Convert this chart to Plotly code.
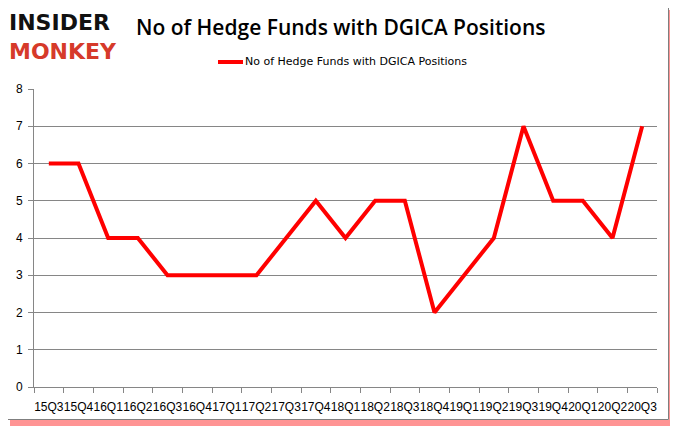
import plotly.graph_objects as go

quarters = ["15Q3", "15Q4", "16Q1", "16Q2", "16Q3", "16Q4", "17Q1", "17Q2", "17Q3", "17Q4",
            "18Q1", "18Q2", "18Q3", "18Q4", "19Q1", "19Q2", "19Q3", "19Q4", "20Q1", "20Q2", "20Q3"]
hedge_funds = [6, 6, 4, 4, 3, 3, 3, 3, 4, 5, 4, 5, 5, 2, 3, 4, 7, 5, 5, 4, 7]
series_name = "No of Hedge Funds with DGICA Positions"
title_text = "No of Hedge Funds with DGICA Positions"
logo_top, logo_bottom = "INSIDER", "MONKEY"

# the page body has an 8px margin; work in window pixels and convert
OFF = 8
WIN_W, WIN_H = 678, 431
W, H = WIN_W - OFF, WIN_H - OFF
L, R, T, B = 34 - OFF, 657 - OFF, 89 - OFF, 387 - OFF

fig = go.Figure()
fig.add_trace(go.Scatter(x=quarters, y=hedge_funds, mode="lines", name=series_name,
                         line=dict(color="#ff0000", width=4), showlegend=False))


def px(x):
    return (x - OFF - L) / (R - L)


def py(y):
    return (B - (y - OFF)) / (B - T)


shadow = "rgba(255,60,60,0.55)"
shapes = [
    # bottom shadow strip
    dict(type="rect", xref="paper", yref="paper",
         x0=px(10), x1=px(676), y0=py(426), y1=py(420),
         fillcolor=shadow, line=dict(width=0), layer="below"),
    # right shadow strip (visible part)
    dict(type="rect", xref="paper", yref="paper",
         x0=px(669), x1=px(676), y0=py(420), y1=py(10),
         fillcolor=shadow, line=dict(width=0), layer="below"),
    # frame right & bottom edges
    dict(type="line", xref="paper", yref="paper",
         x0=px(668.5), x1=px(668.5), y0=py(419.5), y1=py(8),
         line=dict(color="#7f7f7f", width=1)),
    dict(type="line", xref="paper", yref="paper",
         x0=px(8), x1=px(668.5), y0=py(419.5), y1=py(419.5),
         line=dict(color="#7f7f7f", width=1)),
    # legend sample line
    dict(type="line", xref="paper", yref="paper",
         x0=px(218), x1=px(243), y0=py(62), y1=py(62),
         line=dict(color="#ff0000", width=4)),
]
fig.update_layout(shapes=shapes)

fig.add_annotation(text=f"<b>{logo_top}</b><br><b><span style='color:#d63a2a'>{logo_bottom}</span></b>",
                   xref="paper", yref="paper", align="left",
                   x=px(7), y=py(8), xanchor="left", yanchor="top", showarrow=False,
                   font=dict(family="DejaVu Sans", size=22, color="#111111"))
fig.add_annotation(text=title_text, xref="paper", yref="paper",
                   x=px(340), y=py(27), xanchor="center", yanchor="middle", showarrow=False,
                   font=dict(family="Open Sans", size=21, color="#000000", weight=600))
fig.add_annotation(text=series_name, xref="paper", yref="paper",
                   x=px(243), y=py(62), xanchor="left", yanchor="middle", showarrow=False,
                   font=dict(family="DejaVu Sans", size=11, color="#000000"))

fig.update_layout(
    width=W, height=H,
    margin=dict(l=L, r=W - R, t=T, b=H - B, pad=0, autoexpand=False),
    paper_bgcolor="white", plot_bgcolor="white",
    showlegend=False,
    xaxis=dict(type="category", tickson="boundaries", ticks="outside", ticklen=5,
               tickcolor="#868686", showline=True, linecolor="#868686", showgrid=False,
               range=[-0.5, 20.5], automargin=False, ticklabelstandoff=9,
               tickfont=dict(family="Liberation Sans", size=12, color="#000000"),
               tickangle=0),
    yaxis=dict(range=[0, 8], dtick=1, ticks="outside", ticklen=5, tickcolor="#868686",
               showline=True, linecolor="#868686", showgrid=True, gridcolor="#868686",
               gridwidth=1, zeroline=False, automargin=False, ticklabelstandoff=3,
               tickfont=dict(family="Liberation Sans", size=12, color="#000000")),
)

fig.write_html("out.html")
